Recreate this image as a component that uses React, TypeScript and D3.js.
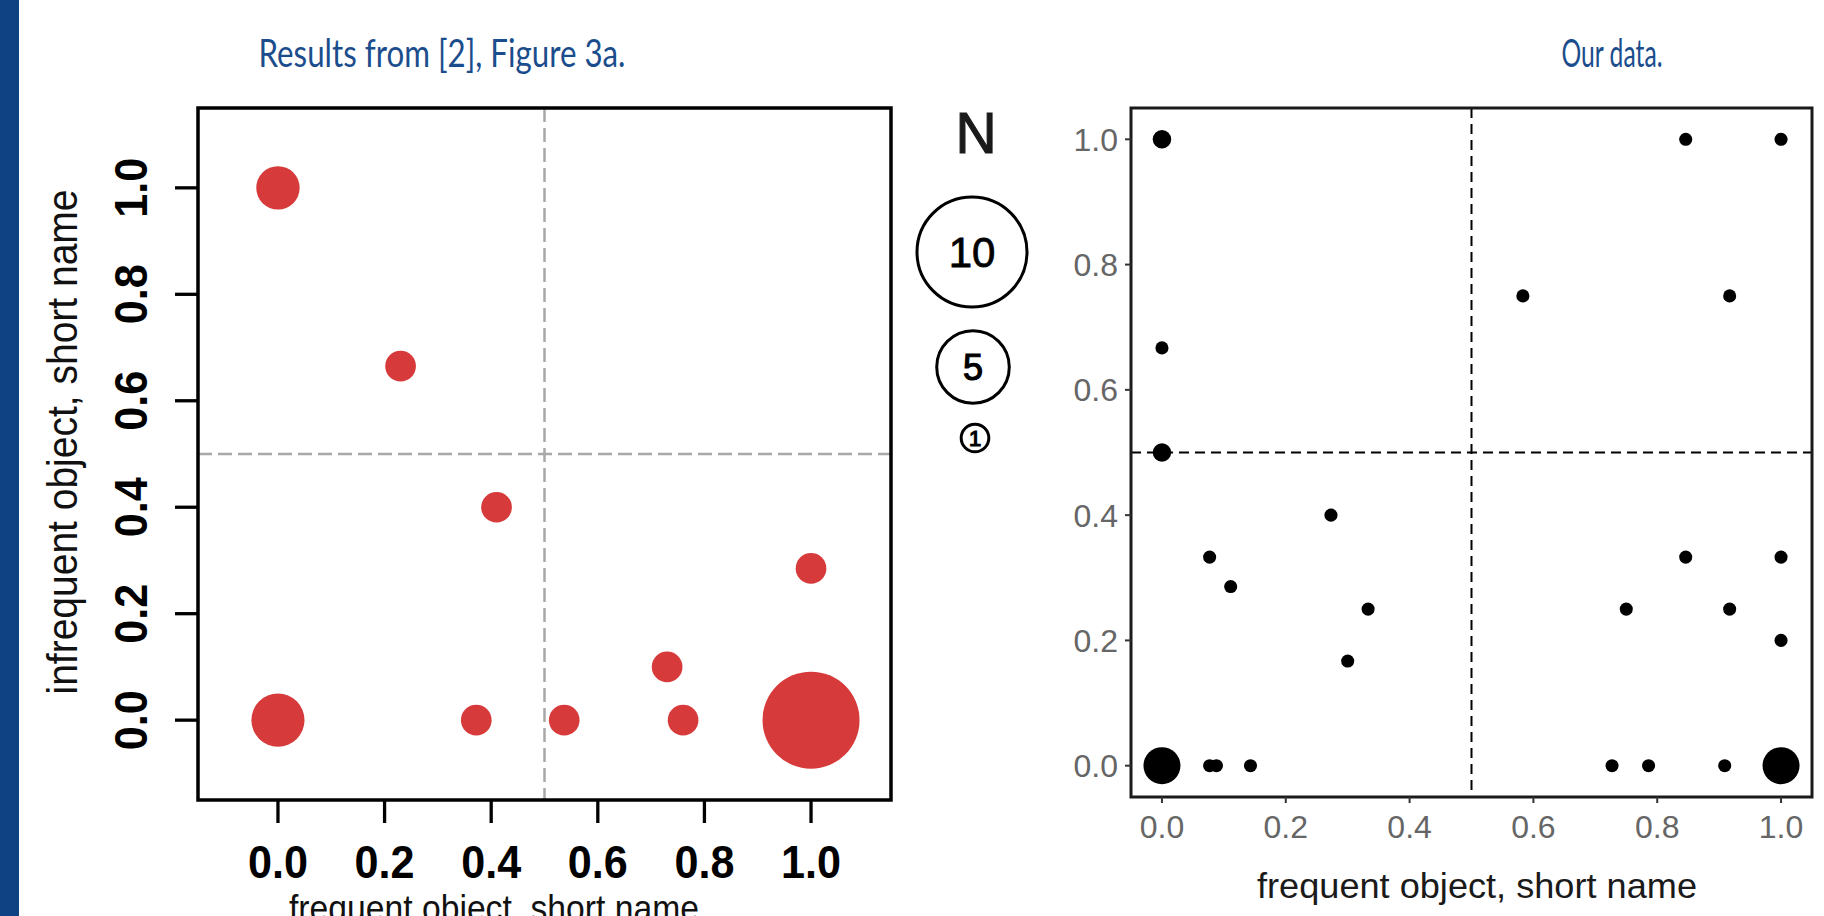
import React from 'react';
import { scaleLinear, scaleSqrt, scalePow, format } from 'd3';

const leftX = [0.0, 0.23, 0.41, 1.0, 0.73, 0.0, 0.372, 0.537, 0.76, 1.0];
const leftY = [1.0, 0.665, 0.4, 0.285, 0.1, 0.0, 0.0, 0.0, 0.0, 0.0];
const leftN = [2, 1, 1, 1, 1, 3, 1, 1, 1, 10];

// right panel: our data
const rightX = [0.0, 0.846, 1.0, 0.583, 0.917, 0.0, 0.0, 0.077, 0.111, 0.273, 0.333, 0.3,
	0.846, 1.0, 0.75, 0.917, 1.0, 0.0, 0.077, 0.088, 0.143, 0.727, 0.786, 0.909, 1.0];
const rightY = [1.0, 1.0, 1.0, 0.75, 0.75, 0.667, 0.5, 0.333, 0.286, 0.4, 0.25, 0.167,
	0.333, 0.333, 0.25, 0.25, 0.2, 0.0, 0.0, 0.0, 0.0, 0.0, 0.0, 0.0, 0.0];
const rightN = [2, 1, 1, 1, 1, 1, 2, 1, 1, 1, 1, 1, 1, 1, 1, 1, 1, 8, 1, 1, 1, 1, 1, 1, 8];

const tickValues = [0, 0.2, 0.4, 0.6, 0.8, 1.0];
const legendN = [10, 5, 1];

const leftTitle = 'Results from [2], Figure 3a.';
const rightTitle = 'Our data.';
const xTitle = 'frequent object, short name';
const yTitle = 'infrequent object, short name';

const fmt = format('.1f');
const AXIS_FONT = '"Liberation Sans", Arial, sans-serif';
const TITLE_FONT = 'Lato, "Open Sans", sans-serif';

function LeftPanel() {
	// frame 198..891 x 108..800, domain -0.15..1.15
	const x = scaleLinear().domain([-0.15, 1.15]).range([198, 891]);
	const y = scaleLinear().domain([-0.15, 1.15]).range([800, 108]);
	const r = scaleSqrt().domain([0, 10]).range([0, 48.5]);

	return (
		<g>
			<line x1={x(0.5)} x2={x(0.5)} y1={y(1.15)} y2={y(-0.15)}
				stroke="#a8a8a8" strokeWidth={2.5} strokeDasharray="14 6"/>
			<line x1={x(-0.15)} x2={x(1.15)} y1={y(0.5)} y2={y(0.5)}
				stroke="#a8a8a8" strokeWidth={2.5} strokeDasharray="14 6"/>
			{leftX.map((d, i) => (
				<circle key={i} cx={x(d)} cy={y(leftY[i])} r={r(leftN[i])} fill="#d73a3a"/>
			))}
			<rect x={x(-0.15)} y={y(1.15)} width={x(1.15) - x(-0.15)} height={y(-0.15) - y(1.15)}
				fill="none" stroke="#000" strokeWidth={3.5}/>
			{tickValues.map((t) => (
				<g key={'x' + t}>
					<line x1={x(t)} x2={x(t)} y1={800} y2={823} stroke="#000" strokeWidth={3.3}/>
					<text x={x(t)} y={878} textAnchor="middle" fontFamily={AXIS_FONT}
						fontWeight="bold" fontSize={47} textLength={60} lengthAdjust="spacingAndGlyphs"
						fill="#000">{fmt(t)}</text>
				</g>
			))}
			{tickValues.map((t) => (
				<g key={'y' + t}>
					<line x1={175} x2={198} y1={y(t)} y2={y(t)} stroke="#000" strokeWidth={3.3}/>
					<text transform={`translate(147,${y(t)}) rotate(-90)`} textAnchor="middle"
						fontFamily={AXIS_FONT} fontWeight="bold" fontSize={47} textLength={60}
						lengthAdjust="spacingAndGlyphs" fill="#000">{fmt(t)}</text>
				</g>
			))}
			<text x={494} y={921} textAnchor="middle" fontFamily={AXIS_FONT} fontSize={37}
				textLength={410} lengthAdjust="spacingAndGlyphs" fill="#111">{xTitle}</text>
			<text transform="translate(77,442) rotate(-90)" textAnchor="middle" fontFamily={AXIS_FONT}
				fontSize={42} textLength={505} lengthAdjust="spacingAndGlyphs" fill="#111">{yTitle}</text>
		</g>
	);
}

function Legend() {
	const r = scalePow().exponent(0.6).domain([0, 10]).range([0, 55]);
	const cy = [252, 367, 438];
	const cx = [972, 973, 975];
	const fs = [42, 36, 22];
	return (
		<g fontFamily={AXIS_FONT}>
			<text x={976} y={153} textAnchor="middle" fontSize={57} fill="#1a1a1a"
				stroke="#1a1a1a" strokeWidth={1.2}>N</text>
			{legendN.map((n, i) => (
				<g key={n}>
					<circle cx={cx[i]} cy={cy[i]} r={r(n)} fill="none" stroke="#000" strokeWidth={3}/>
					<text x={cx[i]} y={cy[i] + fs[i] * 0.36} textAnchor="middle" fontSize={fs[i]}
						fill="#000" stroke="#000" strokeWidth={i === 0 ? 0.8 : 1.2}>{n}</text>
				</g>
			))}
		</g>
	);
}

function RightPanel() {
	// ggplot default 5% expansion
	const x = scaleLinear().domain([-0.05, 1.05]).range([1131, 1812]);
	const y = scaleLinear().domain([-0.05, 1.05]).range([797, 108]);
	const r = scaleSqrt().domain([0, 8]).range([0, 18.5]);

	return (
		<g>
			<line x1={x(0.5)} x2={x(0.5)} y1={y(1.05)} y2={y(-0.05)}
				stroke="#000" strokeWidth={2} strokeDasharray="10 6"/>
			<line x1={x(-0.05)} x2={x(1.05)} y1={y(0.5)} y2={y(0.5)}
				stroke="#000" strokeWidth={2} strokeDasharray="10 6"/>
			{rightX.map((d, i) => (
				<circle key={i} cx={x(d)} cy={y(rightY[i])} r={r(rightN[i])} fill="#000"/>
			))}
			<rect x={x(-0.05)} y={y(1.05)} width={x(1.05) - x(-0.05)} height={y(-0.05) - y(1.05)}
				fill="none" stroke="#1a1a1a" strokeWidth={3}/>
			{tickValues.map((t) => (
				<g key={'x' + t}>
					<line x1={x(t)} x2={x(t)} y1={797} y2={803} stroke="#333" strokeWidth={2}/>
					<text x={x(t)} y={838} textAnchor="middle" fontFamily={AXIS_FONT} fontSize={32}
						fill="#666">{fmt(t)}</text>
				</g>
			))}
			{tickValues.map((t) => (
				<g key={'y' + t}>
					<line x1={1125} x2={1131} y1={y(t)} y2={y(t)} stroke="#333" strokeWidth={2}/>
					<text x={1118} y={y(t) + 11.5} textAnchor="end" fontFamily={AXIS_FONT} fontSize={32}
						fill="#666">{fmt(t)}</text>
				</g>
			))}
			<text x={1477} y={898} textAnchor="middle" fontFamily={AXIS_FONT} fontSize={35}
				textLength={440} lengthAdjust="spacingAndGlyphs" fill="#1a1a1a">{xTitle}</text>
		</g>
	);
}

export default function App() {
	return (
		<svg width={1824} height={916} style={{ position: 'absolute', left: 0, top: 0, background: '#fff' }}>
			<rect x={0} y={0} width={1824} height={916} fill="#fff"/>
			<rect x={0} y={0} width={19} height={916} fill="#0e4282"/>
			<text x={442} y={67} textAnchor="middle" fontFamily={TITLE_FONT} fontSize={38}
				textLength={367} lengthAdjust="spacingAndGlyphs" fill="#1b4d8d">{leftTitle}</text>
			<text x={1612} y={67} textAnchor="middle" fontFamily={TITLE_FONT} fontSize={38}
				textLength={101} lengthAdjust="spacingAndGlyphs" fill="#1b4d8d">{rightTitle}</text>
			<LeftPanel/>
			<Legend/>
			<RightPanel/>
		</svg>
	);
}
